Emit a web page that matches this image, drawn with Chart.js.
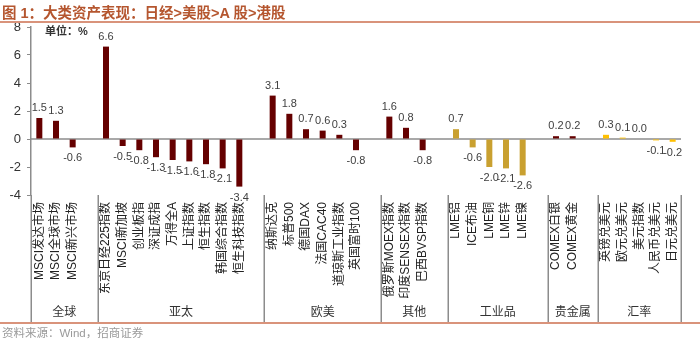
<!DOCTYPE html>
<html>
<head>
<meta charset="utf-8">
<script src="https://cdn.jsdelivr.net/npm/chart.js@4.4.1/dist/chart.umd.min.js"></script>
<style>
  html, body { margin: 0; padding: 0; background: #fff; }
  #wrap { position: relative; width: 700px; height: 340px; overflow: hidden; }
  #c { position: absolute; left: 0; top: 0; }
  #title { position: absolute; left: 2px; top: 1px; font: bold 14.5px "Liberation Sans", "Noto Sans CJK SC", sans-serif; color: #B5562F; white-space: nowrap; }
  #tline { position: absolute; left: 0; top: 21px; width: 700px; height: 2px; background: #D9937B; }
  #fline { position: absolute; left: 0; top: 322px; width: 700px; height: 2px; background: #D9937B; }
  #foot { position: absolute; left: 2px; top: 324px; font: 11.5px "Liberation Sans", "Noto Sans CJK SC", sans-serif; color: #9a9a9a; white-space: nowrap; }
  #unit { position: absolute; left: 45px; top: 22px; font: bold 11px "Liberation Sans", "Noto Sans CJK SC", sans-serif; color: #333; white-space: nowrap; }
</style>
</head>
<body>
<div id="wrap">
  <canvas id="c" width="700" height="340"></canvas>
  <div id="title">图 1：大类资产表现：日经&gt;美股&gt;A 股&gt;港股</div>
  <div id="tline"></div>
  <div id="unit">单位：%</div>
  <div id="fline"></div>
  <div id="foot">资料来源：Wind，招商证券</div>
</div>
<script>
// ---- data ----
const groupNames = ['全球', '亚太', '欧美', '其他', '工业品', '贵金属', '汇率'];
const globalLabels = ['MSCI发达市场', 'MSCI全球市场', 'MSCI新兴市场'];
const globalValues = [1.5, 1.3, -0.6];
const asiaLabels = ['东京日经225指数', 'MSCI新加坡', '创业板指', '深证成指', '万得全A', '上证指数', '恒生指数', '韩国综合指数', '恒生科技指数'];
const asiaValues = [6.6, -0.5, -0.8, -1.3, -1.5, -1.6, -1.8, -2.1, -3.4];
const euUsLabels = ['纳斯达克', '标普500', '德国DAX', '法国CAC40', '道琼斯工业指数', '英国富时100'];
const euUsValues = [3.1, 1.8, 0.7, 0.6, 0.3, -0.8];
const otherLabels = ['俄罗斯MOEX指数', '印度SENSEX指数', '巴西BVSP指数'];
const otherValues = [1.6, 0.8, -0.8];
const metalLabels = ['LME铝', 'ICE布油', 'LME铜', 'LME锌', 'LME镍'];
const metalValues = [0.7, -0.6, -2.0, -2.1, -2.6];
const preciousLabels = ['COMEX白银', 'COMEX黄金'];
const preciousValues = [0.2, 0.2];
const fxLabels = ['英镑兑美元', '欧元兑美元', '美元指数', '人民币兑美元', '日元兑美元'];
const fxValues = [0.3, 0.1, 0.0, -0.1, -0.2];
const yTicks = [-4, -2, 0, 2, 4, 6, 8];

// ---- build ----
const groups = [
  { name: groupNames[0], labels: globalLabels, values: globalValues, color: '#650000' },
  { name: groupNames[1], labels: asiaLabels, values: asiaValues, color: '#650000' },
  { name: groupNames[2], labels: euUsLabels, values: euUsValues, color: '#650000' },
  { name: groupNames[3], labels: otherLabels, values: otherValues, color: '#650000' },
  { name: groupNames[4], labels: metalLabels, values: metalValues, color: '#C9A030' },
  { name: groupNames[5], labels: preciousLabels, values: preciousValues, color: '#650000' },
  { name: groupNames[6], labels: fxLabels, values: fxValues, color: '#FFC000' }
];
const labels = [], values = [], colors = [], spans = [];
groups.forEach((g, gi) => {
  const start = labels.length;
  g.labels.forEach((l, i) => { labels.push(l); values.push(g.values[i]); colors.push(g.color); });
  if (gi < groups.length - 1) { labels.push(''); values.push(null); colors.push('#fff'); }
  spans.push({ name: g.name, start: start, end: labels.length });
});

const FONT = '"Liberation Sans", "Noto Sans CJK SC", sans-serif';

const decor = {
  id: 'decor',
  beforeDatasetsDraw(chart) {
    const ctx = chart.ctx, y = chart.scales.y;
    const y0 = y.getPixelForValue(0);
    ctx.save();
    ctx.strokeStyle = '#8c8c8c';
    ctx.lineWidth = 1.5;
    ctx.beginPath();
    ctx.moveTo(chart.chartArea.left, y0);
    ctx.lineTo(chart.chartArea.right, y0);
    ctx.stroke();
    ctx.restore();
  },
  afterDatasetsDraw(chart) {
    const ctx = chart.ctx, x = chart.scales.x, y = chart.scales.y;
    const meta = chart.getDatasetMeta(0);
    ctx.save();
    ctx.font = '11px ' + FONT;
    ctx.fillStyle = '#404040';
    ctx.textAlign = 'center';
    ctx.textBaseline = 'middle';
    values.forEach((v, i) => {
      if (v === null) return;
      const bar = meta.data[i];
      const yEnd = y.getPixelForValue(v);
      const yy = v >= 0 ? yEnd - 10 : yEnd + 11;
      ctx.fillText(v.toFixed(1), bar.x, yy);
    });
    // group separators and names
    const half = (x.getPixelForValue(1) - x.getPixelForValue(0)) / 2;
    const top = chart.chartArea.bottom;
    const bottom = 322;
    ctx.strokeStyle = '#8c8c8c';
    ctx.lineWidth = 1.5;
    const bounds = new Set();
    spans.forEach(s => { bounds.add(s.start); bounds.add(s.end); });
    bounds.forEach(b => {
      const px = Math.round(x.getPixelForValue(b) - half) + 0.25;
      ctx.beginPath();
      ctx.moveTo(px, top);
      ctx.lineTo(px, bottom);
      ctx.stroke();
    });
    ctx.font = '12px ' + FONT;
    ctx.fillStyle = '#333';
    spans.forEach(s => {
      const a = x.getPixelForValue(s.start) - half;
      const b = x.getPixelForValue(s.end) - half;
      ctx.fillText(s.name, (a + b) / 2, 313);
    });
    ctx.restore();
  }
};

new Chart(document.getElementById('c'), {
  type: 'bar',
  data: {
    labels: labels,
    datasets: [{ data: values, backgroundColor: colors, barPercentage: 0.72, categoryPercentage: 0.5 }]
  },
  options: {
    responsive: false,
    animation: false,
    devicePixelRatio: 1,
    layout: { padding: { left: 0, top: 27, right: 19, bottom: 18 } },
    plugins: { legend: { display: false }, tooltip: { enabled: false }, title: { display: false } },
    scales: {
      x: {
        position: 'bottom',
        grid: { display: false, drawTicks: false },
        border: { display: false },
        ticks: {
          autoSkip: false, maxRotation: 90, minRotation: 90, padding: 7,
          color: '#222', font: { family: FONT, size: 12 }
        },
        afterFit(scale) { scale.height = 127; }
      },
      y: {
        min: -4, max: 8,
        afterBuildTicks(scale) { scale.ticks = yTicks.map(v => ({ value: v })); },
        grid: { drawOnChartArea: false, drawTicks: true, tickLength: 4, color: '#8c8c8c' },
        border: { display: true, color: '#8c8c8c', width: 1.5 },
        ticks: { padding: 6, color: '#333', font: { family: FONT, size: 13 } },
        afterFit(scale) { scale.width = 31; }
      }
    }
  },
  plugins: [decor]
});
</script>
</body>
</html>
